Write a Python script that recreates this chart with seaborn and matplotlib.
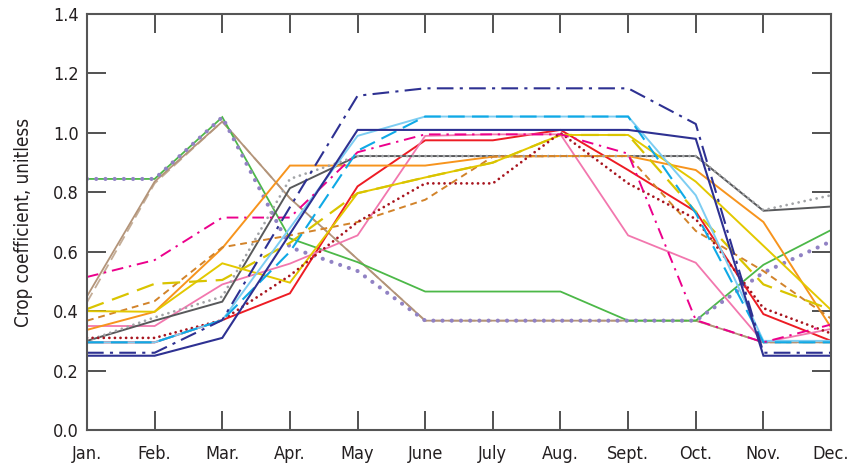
import numpy as np
import pandas as pd
import matplotlib
matplotlib.use("Agg")
import matplotlib.pyplot as plt
from matplotlib import font_manager
import seaborn as sns

# Month labels along the x axis
months = ["Jan.", "Feb.", "Mar.", "Apr.", "May", "June",
          "July", "Aug.", "Sept.", "Oct.", "Nov.", "Dec."]

# Monthly crop coefficients, one list per crop curve
navy_solid = [0.25, 0.25, 0.31, 0.66, 1.01, 1.01, 1.01, 1.01, 1.01, 0.98, 0.25, 0.25]
navy_dashdot = [0.26, 0.26, 0.37, 0.75, 1.125, 1.15, 1.15, 1.15, 1.15, 1.03, 0.26, 0.26]
light_blue = [0.295, 0.295, 0.37, 0.68, 0.99, 1.055, 1.055, 1.055, 1.055, 0.79, 0.30, 0.30]
blue_dashed = [0.295, 0.295, 0.37, 0.60, 0.94, 1.055, 1.055, 1.055, 1.055, 0.73, 0.295, 0.295]
red_solid = [0.295, 0.295, 0.37, 0.46, 0.82, 0.975, 0.975, 1.01, 0.875, 0.735, 0.39, 0.30]
dark_red_dotted = [0.31, 0.31, 0.37, 0.52, 0.70, 0.83, 0.83, 1.0, 0.83, 0.71, 0.41, 0.325]
magenta_dashdot = [0.515, 0.572, 0.715, 0.715, 0.935, 0.995, 0.995, 0.995, 0.93, 0.37, 0.295, 0.355]
pink_solid = [0.35, 0.35, 0.49, 0.56, 0.655, 0.99, 0.995, 0.995, 0.655, 0.563, 0.295, 0.34]
orange_solid = [0.337, 0.398, 0.612, 0.89, 0.89, 0.89, 0.92, 0.922, 0.922, 0.875, 0.70, 0.345]
orange_dashed = [0.368, 0.434, 0.615, 0.655, 0.70, 0.775, 0.92, 0.922, 0.922, 0.67, 0.535, 0.375]
yellow_solid = [0.40, 0.398, 0.561, 0.496, 0.797, 0.85, 0.90, 0.993, 0.993, 0.836, 0.62, 0.404]
yellow_dashed = [0.407, 0.492, 0.505, 0.63, 0.797, 0.85, 0.90, 0.993, 0.993, 0.735, 0.49, 0.405]
dark_gray_solid = [0.30, 0.368, 0.432, 0.814, 0.922, 0.922, 0.922, 0.922, 0.922, 0.922, 0.738, 0.752]
gray_dotted = [0.30, 0.379, 0.449, 0.845, 0.922, 0.922, 0.922, 0.922, 0.922, 0.922, 0.74, 0.79]
green_solid = [0.845, 0.845, 1.053, 0.645, 0.565, 0.466, 0.466, 0.466, 0.368, 0.368, 0.556, 0.673]
purple_dotted = [0.845, 0.845, 1.053, 0.615, 0.535, 0.368, 0.368, 0.368, 0.368, 0.368, 0.53, 0.635]
tan_solid = [0.45, 0.836, 1.038, 0.78, 0.575, 0.368, 0.368, 0.368, 0.368, 0.368, 0.295, 0.295]
tan_dashed = [0.43, 0.83, 1.038, 0.78, 0.575, 0.368, 0.368, 0.368, 0.368, 0.368, 0.295, 0.295]

y_ticks = [0.0, 0.2, 0.4, 0.6, 0.8, 1.0, 1.2, 1.4]

# (values, color, dash pattern, line width, cap style) in drawing order
curves = [
    (tan_dashed, "#c4ad97", (6, 3), 1.3, "butt"),
    (tan_solid, "#b39479", None, 1.3, "butt"),
    (green_solid, "#4cb848", None, 1.3, "butt"),
    (purple_dotted, "#9182c4", (0.01, 2.2), 3.0, "round"),
    (red_solid, "#ed1c24", None, 1.4, "butt"),
    (pink_solid, "#f277ae", None, 1.3, "butt"),
    (dark_gray_solid, "#58595b", None, 1.4, "butt"),
    (orange_solid, "#f7941d", None, 1.4, "butt"),
    (gray_dotted, "#a2a4a7", (0.01, 2.2), 2.0, "round"),
    (orange_dashed, "#d2832a", (3.5, 2.5), 1.4, "butt"),
    (yellow_solid, "#e3c800", None, 1.4, "butt"),
    (yellow_dashed, "#d9c400", (8, 4), 1.6, "butt"),
    (dark_red_dotted, "#a8151f", (0.01, 2.0), 2.0, "round"),
    (light_blue, "#7dcdf2", None, 1.4, "butt"),
    (blue_dashed, "#0fa9e6", (8, 3.5), 1.5, "butt"),
    (magenta_dashdot, "#ec008c", (6, 3, 1.2, 3), 1.4, "butt"),
    (navy_solid, "#2e3192", None, 1.5, "butt"),
    (navy_dashdot, "#2e3192", (8, 3, 1.5, 3), 1.5, "butt"),
]

sns.set_theme(style="white")

# Prefer a narrow sans face for the labels
installed = {f.name for f in font_manager.fontManager.ttflist}
if "Liberation Sans Narrow" in installed:
    plt.rcParams["font.family"] = ["Liberation Sans Narrow", "DejaVu Sans"]
else:
    plt.rcParams["font.family"] = ["DejaVu Sans"]
    plt.rcParams["font.stretch"] = "condensed"

fig = plt.figure(figsize=(8.48, 4.68), dpi=100)
ax = fig.add_axes([0.1026, 0.0812, 0.8774, 0.8888])

x = np.arange(len(months))
for values, color, dashes, lw, cap in curves:
    df = pd.DataFrame({"month": x, "kc": values})
    sns.lineplot(data=df, x="month", y="kc", ax=ax, color=color, lw=lw,
                 estimator=None, sort=False)
    line = ax.lines[-1]
    if dashes is not None:
        line.set_dashes(dashes)
        line.set_dash_capstyle(cap)
    line.set_solid_capstyle("butt")
    line.set_solid_joinstyle("miter")

ax.set_xlim(0, len(months) - 1)
ax.set_ylim(0, 1.4)
ax.set_xticks(x)
ax.set_xticklabels(months)
ax.set_yticks(y_ticks)
ax.set_yticklabels([f"{v:.1f}" for v in y_ticks])
ax.set_xlabel("")
ax.set_ylabel("Crop coefficient, unitless", fontsize=13.5, color="#231f20", labelpad=14)

ax.tick_params(axis="both", which="major", direction="in", length=14,
               width=1.2, color="#333333", labelsize=13, labelcolor="#231f20",
               top=True, right=True, bottom=True, left=True)
ax.tick_params(axis="x", pad=11)
ax.tick_params(axis="y", pad=6)

for spine in ax.spines.values():
    spine.set_visible(True)
    spine.set_color("#555555")
    spine.set_linewidth(1.5)

fig.savefig("out.png", dpi=100)
